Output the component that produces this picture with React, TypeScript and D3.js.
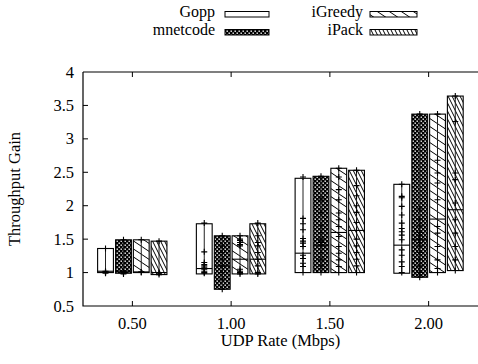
import React from "react";
import * as d3 from "d3";

const categories = [0.5, 1.0, 1.5, 2.0];
const tickLabels = ["0.50", "1.00", "1.50", "2.00"];
const yTicks = [0.5, 1, 1.5, 2, 2.5, 3, 3.5, 4];
const yTickLabels = ["0.5", "1", "1.5", "2", "2.5", "3", "3.5", "4"];
const seriesNames = ["Gopp", "mnetcode", "iGreedy", "iPack"];
const seriesOffsets = [-0.136, -0.045, 0.045, 0.135];

const goppLow = [1.0, 0.98, 1.0, 0.99];
const goppHigh = [1.36, 1.73, 2.41, 2.32];
const goppMedian = [1.02, 1.06, 1.29, 1.41];
const goppPoints = [
  [1.36, 1.02, 1.01, 1.0, 1.0, 0.99],
  [1.74, 1.31, 1.15, 1.12, 1.1, 1.08, 1.05, 1.02, 1.0, 0.99],
  [2.43, 1.81, 1.73, 1.64, 1.51, 1.47, 1.44, 1.39, 1.26, 1.21, 1.14, 1.09, 1.0],
  [2.32, 2.14, 2.12, 1.99, 1.86, 1.74, 1.66, 1.61, 1.56, 1.49, 1.34, 1.26, 1.16, 1.09, 1.0],
];

const mnetLow = [0.99, 0.75, 1.0, 0.93];
const mnetHigh = [1.49, 1.55, 2.44, 3.37];
const mnetMedian = [1.02, 1.1, 1.41, 1.49];
const mnetPoints = [
  [1.49, 1.01, 1.0, 0.99, 0.98],
  [1.55, 1.4, 1.3, 1.2, 1.1, 1.0, 0.9, 0.75],
  [2.44, 2.1, 1.9, 1.7, 1.6, 1.5, 1.45, 1.4, 1.3, 1.2, 1.1, 1.0],
  [3.37, 1.95, 1.8, 1.7, 1.6, 1.55, 1.5, 1.45, 1.4, 1.3, 1.2, 1.1, 1.0, 0.93],
];

const greedyLow = [1.0, 0.98, 1.0, 1.0];
const greedyHigh = [1.49, 1.55, 2.56, 3.37];
const greedyMedian = [1.01, 1.2, 1.6, 1.8];
const greedyPoints = [
  [1.49, 1.01, 1.0],
  [1.55, 1.5, 1.48, 1.45, 1.42, 1.4, 1.05, 1.02, 1.0, 0.98],
  [2.56, 2.43, 2.24, 2.09, 1.89, 1.79, 1.69, 1.54, 1.39, 1.29, 1.19, 1.09, 1.0],
  [3.37, 2.68, 2.49, 2.34, 2.09, 1.69, 1.59, 1.39, 1.19, 1.06, 1.0],
];

const packLow = [0.97, 0.98, 1.0, 1.03];
const packHigh = [1.47, 1.73, 2.53, 3.64];
const packMedian = [1.0, 1.2, 1.63, 1.94];
const packPoints = [
  [1.47, 1.0, 0.99, 0.97],
  [1.74, 1.55, 1.45, 1.4, 1.3, 1.2, 1.1, 1.0, 0.98],
  [2.53, 2.3, 2.15, 2.0, 1.9, 1.75, 1.63, 1.5, 1.4, 1.3, 1.2, 1.1, 1.0],
  [3.64, 3.26, 2.49, 2.39, 2.04, 1.79, 1.59, 1.39, 1.19, 1.03],
];

const lows = [goppLow, mnetLow, greedyLow, packLow];
const highs = [goppHigh, mnetHigh, greedyHigh, packHigh];
const medians = [goppMedian, mnetMedian, greedyMedian, packMedian];
const points = [goppPoints, mnetPoints, greedyPoints, packPoints];
const fills = ["#fff", "url(#pChecker)", "url(#pSparse)", "url(#pDense)"];

const W = 478;
const H = 364;
const left = 83;
const right = 478;
const top = 72;
const bottom = 306;
const boxWidth = 0.08;
const font = "'Liberation Serif', 'Times New Roman', serif";
const fs = 16.5;
const legendFs = 16;

function diag(w: number, h: number) {
  return `M${-w},${-h} L${2 * w},${2 * h} M${-w},0 L${w},${2 * h} M0,${-h} L${2 * w},${h}`;
}

export default function App() {
  const x = d3.scaleLinear().domain([0.25, 2.25]).range([left, right]);
  const y = d3.scaleLinear().domain([0.5, 4]).range([bottom, top]);
  const bw = x(boxWidth) - x(0);

  const legendItems = [
    { name: seriesNames[0], tx: 215, sx: 225, ty: 17, col: 0 },
    { name: seriesNames[1], tx: 215, sx: 225, ty: 35, col: 0 },
    { name: seriesNames[2], tx: 363, sx: 370, ty: 17, col: 1 },
    { name: seriesNames[3], tx: 363, sx: 370, ty: 35, col: 1 },
  ];

  return (
    <div style={{ position: "absolute", left: 0, top: 0 }}>
      <svg width={W} height={H} style={{ display: "block", background: "#fff" }}>
        <defs>
          <pattern id="pChecker" patternUnits="userSpaceOnUse" width={4} height={4}>
            <rect width={4} height={4} fill="#000" />
            <rect x={0.5} y={0.5} width={1.4} height={1.4} fill="#fff" />
            <rect x={2.5} y={2.5} width={1.4} height={1.4} fill="#fff" />
          </pattern>
          <pattern id="pSparse" patternUnits="userSpaceOnUse" width={12} height={8}>
            <rect width={12} height={8} fill="#fff" />
            <path d={diag(12, 8)} stroke="#000" strokeWidth={1} />
          </pattern>
          <pattern id="pDense" patternUnits="userSpaceOnUse" width={4} height={8}>
            <rect width={4} height={8} fill="#fff" />
            <path d={diag(4, 8)} stroke="#000" strokeWidth={1} />
          </pattern>
        </defs>

        {/* legend */}
        {legendItems.map((it, i) => (
          <g key={it.name}>
            <text x={it.tx} y={it.ty} textAnchor="end" fontFamily={font} fontSize={legendFs} fill="#000">
              {it.name}
            </text>
            <rect
              x={it.sx}
              y={it.ty - 5.5}
              width={it.col === 0 ? 44 : 47}
              height={5.5}
              fill={fills[i]}
              stroke="#000"
              strokeWidth={1}
            />
          </g>
        ))}

        {/* frame */}
        <path
          d={`M${left},${top} L${right},${top} M${left},${top} L${left},${bottom} L${right},${bottom}`}
          stroke="#000"
          strokeWidth={1.2}
          fill="none"
        />

        {/* y ticks */}
        {yTicks.map((t, i) => (
          <g key={"y" + i}>
            {i > 0 && i < yTicks.length - 1 && (
              <line x1={left} x2={left + 5} y1={y(t)} y2={y(t)} stroke="#000" strokeWidth={1} />
            )}
            <text
              x={74}
              y={y(t) + 5.5}
              textAnchor="end"
              fontFamily={font}
              fontSize={fs}
              fill="#000"
            >
              {yTickLabels[i]}
            </text>
          </g>
        ))}

        {/* x ticks */}
        {categories.map((c, i) => (
          <g key={"x" + i}>
            <line x1={x(c)} x2={x(c)} y1={bottom} y2={bottom - 5} stroke="#000" strokeWidth={1} />
            <line x1={x(c)} x2={x(c)} y1={top} y2={top + 5} stroke="#000" strokeWidth={1} />
            <text x={x(c)} y={329} textAnchor="middle" fontFamily={font} fontSize={fs} fill="#000">
              {tickLabels[i]}
            </text>
          </g>
        ))}

        {/* boxes */}
        {seriesNames.map((s, si) =>
          categories.map((c, ci) => {
            const cx = x(c + seriesOffsets[si]);
            const yl = y(lows[si][ci]);
            const yh = y(highs[si][ci]);
            const ym = y(medians[si][ci]);
            return (
              <g key={s + ci}>
                <rect
                  x={cx - bw / 2}
                  y={yh}
                  width={bw}
                  height={yl - yh}
                  fill={fills[si]}
                  stroke="#000"
                  strokeWidth={1.1}
                />
                <line x1={cx} x2={cx} y1={yh} y2={yl} stroke="#222" strokeWidth={1} />
                <line x1={cx - bw / 2} x2={cx + bw / 2} y1={ym} y2={ym} stroke="#000" strokeWidth={1.1} />
                {points[si][ci].map((v, pi) => (
                  <path
                    key={pi}
                    d={`M${cx - 3},${y(v)} L${cx + 3},${y(v)} M${cx},${y(v) - 3} L${cx},${y(v) + 3}`}
                    stroke="#000"
                    strokeWidth={1.1}
                  />
                ))}
              </g>
            );
          })
        )}

        {/* axis titles */}
        <text
          transform={`translate(20,189) rotate(-90)`}
          textAnchor="middle"
          fontFamily={font}
          fontSize={fs}
          fill="#000"
        >
          Throughput Gain
        </text>
        <text x={280.5} y={346} textAnchor="middle" fontFamily={font} fontSize={fs} fill="#000">
          UDP Rate (Mbps)
        </text>
      </svg>
    </div>
  );
}
